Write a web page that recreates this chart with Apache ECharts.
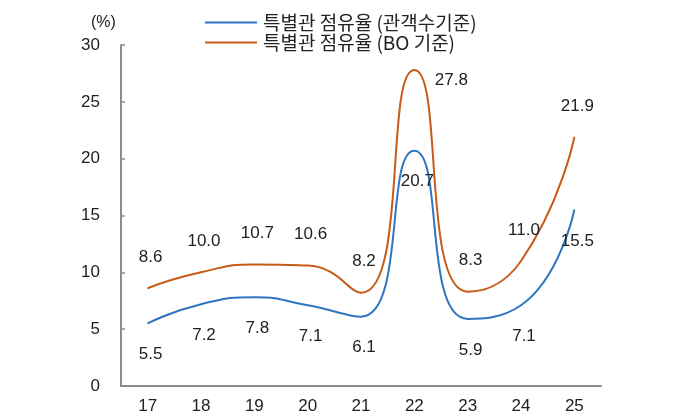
<!DOCTYPE html>
<html>
<head>
    <meta charset="utf-8">
    <title>특별관 점유율</title>
    <script src="https://cdn.jsdelivr.net/npm/echarts@6/dist/echarts.min.js"></script>
    <style>
        html, body { margin: 0; padding: 0; background: #fff; }
        #chart1 { width: 676px; height: 418px; }
    </style>
</head>
<body>
<div id="chart1"></div>
<script>
    // 연도(년) 카테고리
    var years = ['17', '18', '19', '20', '21', '22', '23', '24', '25'];
    // 특별관 점유율 (관객수기준), %
    var shareAudience = [5.5, 7.2, 7.8, 7.1, 6.1, 20.7, 5.9, 7.1, 15.5];
    // 특별관 점유율 (BO 기준), %
    var shareBO = [8.6, 10.0, 10.7, 10.6, 8.2, 27.8, 8.3, 11.0, 21.9];
    var yTicks = {min: 0, max: 30, interval: 5};

    var textColor = '#222222';
    var axisColor = '#8c8c8c';
    var font = 'Liberation Sans, Arial, sans-serif';

    function fmt(p) { return p.value.toFixed(1); }

    var myChart1 = echarts.init(document.getElementById('chart1'));
    myChart1.setOption({
        animation: false,
        title: {
            text: '(%)',
            left: 86,
            top: 10,
            textStyle: {fontSize: 16, fontWeight: 'normal', color: textColor, fontFamily: font}
        },
        legend: {
            orient: 'vertical',
            left: 200,
            top: 8,
            icon: 'rect',
            itemWidth: 52,
            itemHeight: 2,
            itemGap: 1,
            textStyle: {fontSize: 19, color: textColor, fontFamily: 'Noto Sans CJK KR', padding: [0, 0, 0, 1]},
            data: ['특별관 점유율 (관객수기준)', '특별관 점유율 (BO 기준)']
        },
        grid: {left: 121, right: 75, top: 45, bottom: 32},
        xAxis: {
            type: 'category',
            data: years,
            axisLine: {lineStyle: {color: axisColor, width: 2}},
            axisTick: {inside: true, length: 4, lineStyle: {color: axisColor, width: 1.5}},
            axisLabel: {color: textColor, fontSize: 17, margin: 12, fontFamily: font}
        },
        yAxis: {
            type: 'value',
            min: yTicks.min,
            max: yTicks.max,
            interval: yTicks.interval,
            splitLine: {show: false},
            axisLine: {show: true, lineStyle: {color: axisColor, width: 2}},
            axisTick: {show: true, inside: true, length: 4, lineStyle: {color: axisColor, width: 1.5}},
            axisLabel: {color: textColor, fontSize: 17, margin: 21, fontFamily: font}
        },
        series: [
            {
                name: '특별관 점유율 (관객수기준)',
                type: 'line',
                smooth: 0.55,
                symbol: 'circle',
                symbolSize: 1,
                lineStyle: {color: '#2e75c0', width: 2},
                itemStyle: {color: '#2e75c0'},
                label: {
                    show: true,
                    position: 'bottom',
                    distance: 22,
                    offset: [3, 0],
                    color: textColor,
                    fontSize: 17,
                    fontFamily: font,
                    formatter: fmt
                },
                data: shareAudience
            },
            {
                name: '특별관 점유율 (BO 기준)',
                type: 'line',
                smooth: 0.55,
                symbol: 'circle',
                symbolSize: 1,
                lineStyle: {color: '#c65a16', width: 2},
                itemStyle: {color: '#c65a16'},
                label: {
                    show: true,
                    position: 'top',
                    distance: 22,
                    offset: [3, 0],
                    color: textColor,
                    fontSize: 17,
                    fontFamily: font,
                    formatter: fmt
                },
                data: shareBO.map(function (v, i) {
                    // 27.8 라벨은 정점 오른쪽 아래에 위치
                    if (i === 5) {
                        return {value: v, label: {position: 'right', distance: 20, offset: [0, 10]}};
                    }
                    return v;
                })
            }
        ]
    });
</script>
</body>
</html>
